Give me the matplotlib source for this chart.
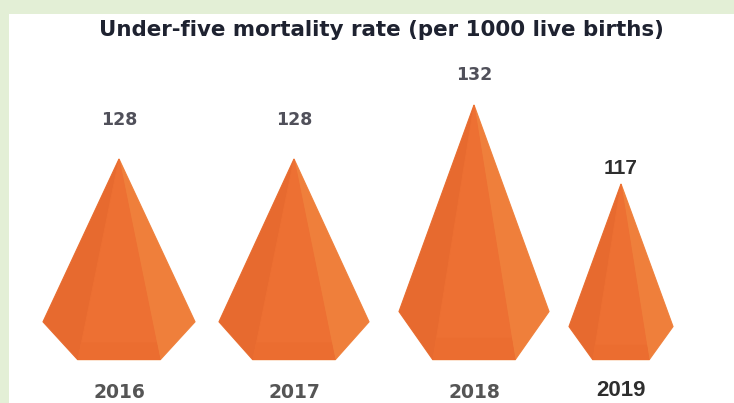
import numpy as np
import matplotlib
matplotlib.use("Agg")
import matplotlib.pyplot as plt
from matplotlib.patches import Polygon, Rectangle

# ---- data ----
years = ["2016", "2017", "2018", "2019"]
rates = [128, 128, 132, 117]
title = "Under-five mortality rate (per 1000 live births)"

# ---- layout (pixels of the 734x403 canvas) ----
W, H = 734, 403
BASE_Y = 360
centres = [119, 294, 474, 621]
half_widths = [76, 75, 75, 52]
half_bases = [41, 41, 41, 28]
label_gaps = [39, 39, 30, 15]
SHOULDER = 0.19
STRIP = 0.085

# the picture's pyramid heights follow a non-linear value axis
_k_val = [0, 117, 128, 132, 160]
_k_px = [0, 176, 201, 255, 360]
def fwd(v):
    return np.interp(v, _k_val, _k_px)
def inv(p):
    return np.interp(p, _k_px, _k_val)

fig = plt.figure(figsize=(W / 100, H / 100), dpi=100, facecolor="white")

# page background strips
GREEN = "#E3EFD6"
fig.add_artist(Rectangle((0, 0), 9 / W, 1, transform=fig.transFigure, color=GREEN, lw=0))
fig.add_artist(Rectangle((0, 1 - 14 / H), 1, 14 / H, transform=fig.transFigure, color=GREEN, lw=0))

ax = fig.add_axes([0, (H - BASE_Y) / H, 1, BASE_Y / H])
ax.patch.set_alpha(0)
ax.set_xlim(0, W)
ax.set_yscale("function", functions=(fwd, inv))
ax.set_ylim(0, 160)
ax.axis("off")

C_LEFT, C_MID, C_RIGHT, C_STRIP, C_EDGE = "#E76A2F", "#ED7033", "#EF7F3B", "#EB6D30", "#FBD8BC"

for cx, hw, hb, v, gap in zip(centres, half_widths, half_bases, rates, label_gaps):
    sh = inv(fwd(v) * SHOULDER)
    st = inv(fwd(v) * STRIP)
    apex = (cx, v)
    ls, rs = (cx - hw, sh), (cx + hw, sh)
    bl, br = (cx - hb, 0), (cx + hb, 0)
    ridge = hb * (1 - STRIP)
    ax.add_patch(Polygon([apex, rs, br, bl, ls], closed=True, fc=C_MID, ec=C_EDGE,
                         lw=1.0, clip_on=False, zorder=1))
    ax.add_patch(Polygon([apex, ls, bl], closed=True, fc=C_LEFT, ec=C_LEFT, lw=0.7, zorder=2))
    ax.add_patch(Polygon([apex, br, rs], closed=True, fc=C_RIGHT, ec=C_RIGHT, lw=0.7, zorder=2))
    ax.add_patch(Polygon([apex, bl, br], closed=True, fc=C_MID, ec=C_MID, lw=0.7, zorder=3))
    ax.add_patch(Polygon([(cx - ridge, st), (cx + ridge, st), br, bl], closed=True,
                         fc=C_STRIP, ec=C_STRIP, lw=0.5, zorder=4))
    last = v == rates[-1]
    ax.annotate(str(v), (cx, v), xytext=(0, gap * 0.72), textcoords="offset points",
                ha="center", va="center",
                family="Liberation Sans" if last else "DejaVu Sans", fontweight="bold",
                fontsize=15 if last else 12.5, color="#2E2E2E" if last else "#50505A",
                zorder=5)

for cx, yr in zip(centres, years):
    last = yr == years[-1]
    ax.annotate(yr, (cx, 0), xytext=(0, -(32 if not last else 30) * 0.72),
                textcoords="offset points", ha="center", va="center",
                family="Liberation Sans" if last else "DejaVu Sans", fontweight="bold",
                fontsize=16 if last else 13.5, color="#2E2E2E" if last else "#555555",
                annotation_clip=False)

fig.text(381 / W, 1 - 30 / H, title, ha="center", va="center", family="DejaVu Sans",
         fontweight="bold", fontsize=15.4, color="#1E2230")

fig.savefig("out.png", dpi=100)
